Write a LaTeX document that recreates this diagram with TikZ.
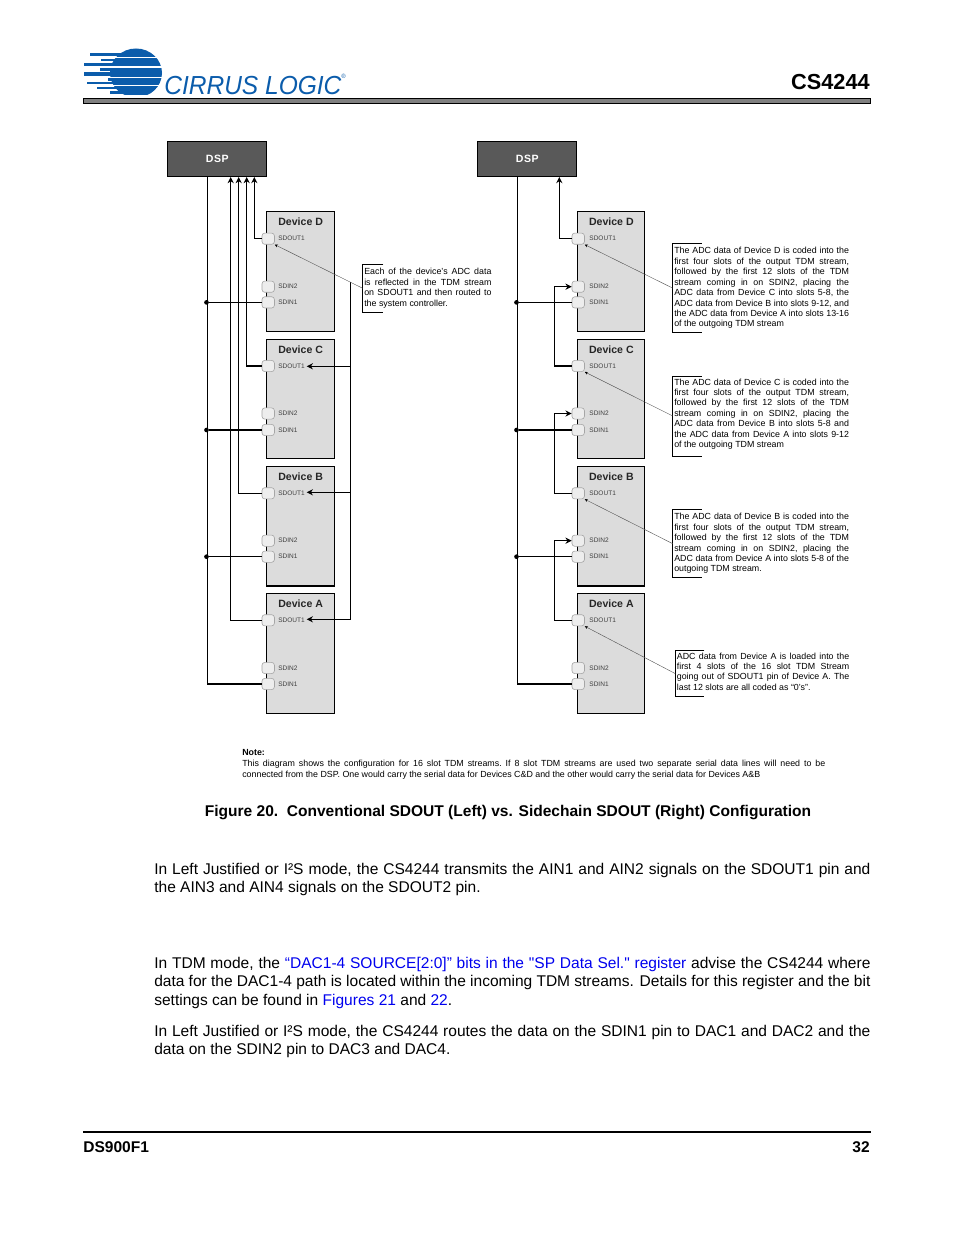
\documentclass[tikz,border=0pt]{standalone}
\usepackage{fontspec}
\setmainfont{Liberation Sans}[Ligatures=TeXOff]
\usepackage{tikz}
\usetikzlibrary{arrows.meta,positioning}
\definecolor{logoblue}{HTML}{0B5CAB}
\definecolor{linkblue}{HTML}{0000EE}
\definecolor{dspgray}{HTML}{595959}
\definecolor{devgray}{HTML}{DCDCDC}

\begin{document}
\begin{tikzpicture}[
  x=0.6415bp, y=-0.6415bp,
  dsp/.style={rectangle, draw, line width=0.7bp, fill=dspgray, text=white, anchor=north west,
              minimum width=63.4bp, minimum height=22.2bp,
              font=\fontsize{6.8}{8}\selectfont\bfseries\addfontfeature{LetterSpace=6}},
  device/.style={rectangle, draw, line width=0.7bp, fill=devgray, anchor=north west,
                 minimum width=43.4bp, minimum height=76.8bp},
  stacked/.style={device, anchor=north, below=4.1bp of #1},
  title/.style={font=\fontsize{6.8}{8}\selectfont\bfseries, inner sep=0pt, text=black!85},
  port/.style={rectangle, draw=black!35, line width=0.4bp, rounded corners=1.8bp, fill=black!7,
               minimum width=8bp, minimum height=7.2bp, inner sep=0pt},
  pintext/.style={font=\fontsize{4.2}{5}\selectfont, text=black!75, inner sep=0pt, label distance=2.1bp},
  rpintext/.style={pintext, label distance=2.8bp},
  wire/.style={line width=0.7bp},
  tip/.style={-{Stealth[length=4bp,width=4bp]}},
  joint/.style={circle, fill, inner sep=0pt, minimum size=3bp},
  leader/.style={line width=0.25bp, black!70, -{Stealth[length=2bp,width=1.8bp,black]}},
  callout/.style={anchor=north west, inner xsep=0.8bp, inner ysep=0pt, align=justify,
                  font=\fontsize{5.7}{6.7}\selectfont\frenchspacing},
  bracket/.style={line width=0.6bp},
  body/.style={anchor=north west, inner sep=0pt, text width=459.4bp, align=justify,
               font=\fontsize{10}{11.9}\selectfont},
]
\useasboundingbox (0,0) rectangle (954,1235);

% page head
\begin{scope}
  \clip (80,49) rectangle (170,94.5);
  \fill[logoblue] (136,73) ellipse[x radius=26, y radius=24.5];
\end{scope}
\fill[logoblue] (90,52.8) rectangle (125,56.3);
\fill[logoblue] (101,58.8) rectangle (125,61.5);
\fill[logoblue] (84,62.8) rectangle (125,65.8);
\fill[logoblue] (100,68.2) rectangle (125,71.2);
\fill[logoblue] (84,72.5) rectangle (125,75.8);
\fill[logoblue] (108,78.5) rectangle (125,81);
\fill[logoblue] (87,81.8) rectangle (125,84.5);
\fill[logoblue] (97,86.8) rectangle (125,89.5);
\fill[logoblue] (110,91) rectangle (125,94.5);
\fill[white] (90,57) rectangle (165,58.2);
\fill[white] (100,66.4) rectangle (165,67.6);
\fill[white] (100,76.8) rectangle (165,78);
\fill[white] (100,85) rectangle (165,86.2);
\node[anchor=base west, inner sep=0pt, text=logoblue, font=\fontsize{16.8}{18}\selectfont\itshape\addfontfeature{FakeStretch=0.94}]
  (logotext) at (164,94.5) {CIRRUS LOGIC\raisebox{0.6em}{\fontsize{4}{4}\selectfont ®}};
\node[anchor=base east, inner sep=0pt, font=\fontsize{14}{16}\selectfont\bfseries] (chip) at (870,89.5) {CS4244};
\draw[line width=0.8bp, fill=black!50] (83.5,98.7) rectangle (870.5,103.2);

% left diagram
\node[dsp] (ldsp) at (167.3,141.3) {DSP};
\node[device] (lD) at (266.3,211.3) {};
\node[stacked=lD] (lC) {};
\node[stacked=lC] (lB) {};
\node[stacked=lB] (lA) {};
\node[title, below=4.2bp of lD.north] (lDt) {Device D};
\node[title, below=4.2bp of lC.north] (lCt) {Device C};
\node[title, below=4.2bp of lB.north] (lBt) {Device B};
\node[title, below=4.2bp of lA.north] (lAt) {Device A};

\node[port, label={[pintext]right:SDOUT1}] (lDo) at (268.2,238.7) {};
\node[port, label={[pintext]right:SDIN2}] (lDi2) at (268.2,286.7) {};
\node[port, label={[pintext]right:SDIN1}] (lDi1) at (268.2,302.4) {};
\node[port, label={[pintext]right:SDOUT1}] (lCo) at (268.2,366) {};
\node[port, label={[pintext]right:SDIN2}] (lCi2) at (268.2,413.5) {};
\node[port, label={[pintext]right:SDIN1}] (lCi1) at (268.2,430) {};
\node[port, label={[pintext]right:SDOUT1}] (lBo) at (268.2,493.3) {};
\node[port, label={[pintext]right:SDIN2}] (lBi2) at (268.2,540.7) {};
\node[port, label={[pintext]right:SDIN1}] (lBi1) at (268.2,556.7) {};
\node[port, label={[pintext]right:SDOUT1}] (lAo) at (268.2,620.3) {};
\node[port, label={[pintext]right:SDIN2}] (lAi2) at (268.2,668) {};
\node[port, label={[pintext]right:SDIN1}] (lAi1) at (268.2,684) {};

\coordinate (lbus) at (207.7,400);
\coordinate (lupA) at (230.7,400);
\coordinate (lupB) at (238.7,400);
\coordinate (lupC) at (246.7,400);
\coordinate (lupD) at (254.3,400);
\coordinate (lret) at (350.3,281.7);
\coordinate (lCtip) at (306.7,366.3);
\coordinate (lBtip) at (306.7,492.3);
\coordinate (lAtip) at (306.7,619.3);
\node[joint] (ljD) at (206.5,302.4) {};
\node[joint] (ljC) at (206.5,430) {};
\node[joint] (ljB) at (206.5,556.7) {};

\draw[wire] (ldsp.south -| lbus) |- (lAi1);
\draw[wire] (ljD) -- (lDi1);
\draw[wire] (ljC) -- (lCi1);
\draw[wire] (ljB) -- (lBi1);
\draw[wire, tip] (lDo) -| (ldsp.south -| lupD);
\draw[wire, tip] (lCo) -| (ldsp.south -| lupC);
\draw[wire, tip] (lBo) -| (ldsp.south -| lupB);
\draw[wire, tip] (lAo) -| (ldsp.south -| lupA);
\draw[wire, tip] (lret) |- (lAtip);
\draw[wire, tip] (lret |- lCtip) -- (lCtip);
\draw[wire, tip] (lret |- lBtip) -- (lBtip);

\node[callout, text width=81.6bp, minimum height=30.4bp] (lnote) at (362.7,264.3)
  {Each of the device’s ADC data\linebreak is reflected in the TDM stream\linebreak on SDOUT1 and then routed to\linebreak the system controller.};
\draw[bracket] (lnote.north west) ++(20.6,0) -- ++(-20.6,0) -- (lnote.south west) -- ++(20.6,0);
\draw[leader] (lnote.west) -- (lDo.south east);

% right diagram
\node[dsp] (rdsp) at (477.3,141.3) {DSP};
\node[device, minimum width=43bp] (rD) at (577.3,211.3) {};
\node[stacked=rD, minimum width=43bp] (rC) {};
\node[stacked=rC, minimum width=43bp] (rB) {};
\node[stacked=rB, minimum width=43bp] (rA) {};
\node[title, below=4.2bp of rD.north] (rDt) {Device D};
\node[title, below=4.2bp of rC.north] (rCt) {Device C};
\node[title, below=4.2bp of rB.north] (rBt) {Device B};
\node[title, below=4.2bp of rA.north] (rAt) {Device A};

\node[port, label={[rpintext]right:SDOUT1}] (rDo) at (578.2,238.7) {};
\node[port, label={[rpintext]right:SDIN2}] (rDi2) at (578.2,286.7) {};
\node[port, label={[rpintext]right:SDIN1}] (rDi1) at (578.2,302.4) {};
\node[port, label={[rpintext]right:SDOUT1}] (rCo) at (578.2,366) {};
\node[port, label={[rpintext]right:SDIN2}] (rCi2) at (578.2,413.5) {};
\node[port, label={[rpintext]right:SDIN1}] (rCi1) at (578.2,430) {};
\node[port, label={[rpintext]right:SDOUT1}] (rBo) at (578.2,493.3) {};
\node[port, label={[rpintext]right:SDIN2}] (rBi2) at (578.2,540.7) {};
\node[port, label={[rpintext]right:SDIN1}] (rBi1) at (578.2,556.7) {};
\node[port, label={[rpintext]right:SDOUT1}] (rAo) at (578.2,620.3) {};
\node[port, label={[rpintext]right:SDIN2}] (rAi2) at (578.2,668) {};
\node[port, label={[rpintext]right:SDIN1}] (rAi1) at (578.2,684) {};

\coordinate (rbus) at (517.7,400);
\coordinate (rup) at (559.3,200);
\coordinate (rhop) at (554.7,400);
\node[joint] (rjD) at (516.5,302.4) {};
\node[joint] (rjC) at (516.5,430) {};
\node[joint] (rjB) at (516.5,556.7) {};

\draw[wire] (rdsp.south -| rbus) |- (rAi1);
\draw[wire] (rjD) -- (rDi1);
\draw[wire] (rjC) -- (rCi1);
\draw[wire] (rjB) -- (rBi1);
\draw[wire, tip] (rDo) -| (rdsp.south -| rup);
\draw[wire, tip] (rCo) -| (rDi2 -| rhop) -- (rDi2);
\draw[wire, tip] (rBo) -| (rCi2 -| rhop) -- (rCi2);
\draw[wire, tip] (rAo) -| (rBi2 -| rhop) -- (rBi2);

\node[callout, text width=112.1bp, minimum height=57.1bp] (rnoteD) at (672.7,243.3)
  {The ADC data of Device D is coded into the\linebreak first four slots of the output TDM stream,\linebreak followed by the first 12 slots of the TDM\linebreak stream coming in on SDIN2, placing the\linebreak ADC data from Device C into slots 5-8, the\linebreak ADC data from Device B into slots 9-12, and\linebreak the ADC data from Device A into slots 13-16\linebreak of the outgoing TDM stream};
\node[callout, text width=112.1bp, minimum height=50.9bp] (rnoteC) at (672.7,376)
  {The ADC data of Device C is coded into the\linebreak first four slots of the output TDM stream,\linebreak followed by the first 12 slots of the TDM\linebreak stream coming in on SDIN2, placing the\linebreak ADC data from Device B into slots 5-8 and\linebreak the ADC data from Device A into slots 9-12\linebreak of the outgoing TDM stream\par\nointerlineskip\vbox to 2.6bp{}};
\node[callout, text width=112.1bp, minimum height=43.2bp] (rnoteB) at (672.7,509.7)
  {The ADC data of Device B is coded into the\linebreak first four slots of the output TDM stream,\linebreak followed by the first 12 slots of the TDM\linebreak stream coming in on SDIN2, placing the\linebreak ADC data from Device A into slots 5-8 of the\linebreak outgoing TDM stream.};
\node[callout, text width=110.6bp, minimum height=29.5bp] (rnoteA) at (675.3,650.3)
  {ADC data from Device A is loaded into the\linebreak first 4 slots of the 16 slot TDM Stream\linebreak going out of SDOUT1 pin of Device A. The\linebreak last 12 slots are all coded as “0’s”.\par\nointerlineskip\vbox to 2.6bp{}};
\draw[bracket] (rnoteD.north west) ++(29,0) -- ++(-29,0) -- (rnoteD.south west) -- ++(29,0);
\draw[bracket] (rnoteC.north west) ++(29,0) -- ++(-29,0) -- (rnoteC.south west) -- ++(29,0);
\draw[bracket] (rnoteB.north west) ++(29,0) -- ++(-29,0) -- (rnoteB.south west) -- ++(29,0);
\draw[bracket] (rnoteA.north west) ++(29,0) -- ++(-29,0) -- (rnoteA.south west) -- ++(29,0);
\draw[leader] (rnoteD.west) -- (rDo.south east);
\draw[leader] (rnoteC.west) -- (rCo.south east);
\draw[leader] (rnoteB.west) -- (rBo.south east);
\draw[leader] (rnoteA.west) -- (rAo.south east);

% text under the figure
\node[anchor=north west, inner sep=0pt, text width=374bp, align=justify, font=\fontsize{5.7}{7.1}\selectfont\frenchspacing]
  (drawnote) at (242,749.5) {\textbf{Note:}\\This diagram shows the configuration for 16 slot TDM streams. If 8 slot TDM streams are used two separate serial data lines will need to be\linebreak connected from the DSP. One would carry the serial data for Devices C\&D and the other would carry the serial data for Devices A\&B};
\node[inner sep=0pt, font=\fontsize{10}{12}\selectfont\bfseries] (caption) at (508,813)
  {Figure 20.\ \ Conventional SDOUT (Left) vs. Sidechain SDOUT (Right) Configuration};
\node[body] (para1) at (154,862.5)
  {In Left Justified or I²S mode, the CS4244 transmits the AIN1 and AIN2 signals on the SDOUT1 pin and\linebreak the AIN3 and AIN4 signals on the SDOUT2 pin.};
\node[body] (para2) at (154,956.5)
  {In TDM mode, the \textcolor{linkblue}{“DAC1-4 SOURCE[2:0]” bits in the "SP Data Sel." register} advise the CS4244 where\linebreak data for the DAC1-4 path is located within the incoming TDM streams. Details for this register and the bit\linebreak settings can be found in \textcolor{linkblue}{Figures 21} and \textcolor{linkblue}{22}.};
\node[body] (para3) at (154,1024.5)
  {In Left Justified or I²S mode, the CS4244 routes the data on the SDIN1 pin to DAC1 and DAC2 and the\linebreak data on the SDIN2 pin to DAC3 and DAC4.};

% page foot
\draw[line width=1.1bp] (83,1132) -- (870.5,1132);
\node[anchor=base west, inner sep=0pt, font=\fontsize{10}{12}\selectfont\bfseries] (docno) at (83,1152.5) {DS900F1};
\node[anchor=base east, inner sep=0pt, font=\fontsize{10}{12}\selectfont\bfseries] (pageno) at (870,1152.5) {32};
\end{tikzpicture}
\end{document}
